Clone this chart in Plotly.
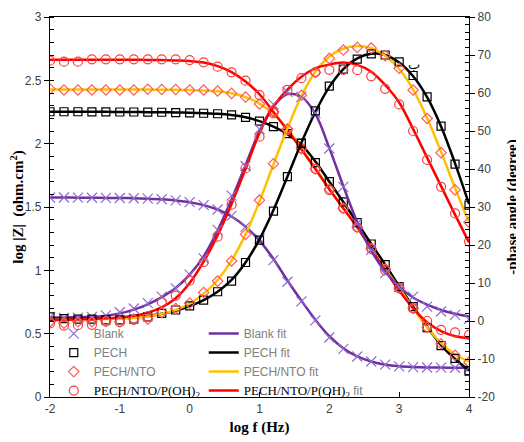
import plotly.graph_objects as go

LOGF = [-2.0, -1.8, -1.6, -1.4, -1.2, -1.0, -0.8, -0.6, -0.4, -0.2, 0.0,
        0.2, 0.4, 0.6, 0.8, 1.0, 1.2, 1.4, 1.6, 1.8, 2.0,
        2.2, 2.4, 2.6, 2.8, 3.0, 3.2, 3.4, 3.6, 3.8, 4.0]

X_TICKS = [-2, -1, 0, 1, 2, 3, 4]
X_TICKTEXT = ["-2", "-1", "0", "1", "2", "3", "4"]
Y_TICKS = [0, 0.5, 1, 1.5, 2, 2.5, 3]
Y_TICKTEXT = ["0", "0.5", "1", "1.5", "2", "2.5", "3"]
Y2_TICKS = [-20, -10, 0, 10, 20, 30, 40, 50, 60, 70, 80]
Y2_TICKTEXT = ["-20", "-10", "0", "10", "20", "30", "40", "50", "60", "70", "80"]

# ---- log|Z| data ----
blank_z = [1.575, 1.575, 1.574, 1.573, 1.572, 1.571, 1.569, 1.566, 1.561, 1.552, 1.538,
           1.515, 1.48, 1.43, 1.345, 1.25, 1.08, 0.91, 0.755, 0.605, 0.47,
           0.38, 0.32, 0.28, 0.255, 0.242, 0.236, 0.233, 0.232, 0.231, 0.231]
pech_z = [2.252, 2.252, 2.252, 2.251, 2.251, 2.250, 2.250, 2.249, 2.248, 2.245, 2.243,
          2.240, 2.236, 2.228, 2.208, 2.178, 2.134, 2.08, 2.003, 1.85, 1.70,
          1.54, 1.376, 1.208, 1.045, 0.871, 0.713, 0.547, 0.405, 0.305, 0.205]
nto_z = [2.432, 2.424, 2.424, 2.424, 2.424, 2.424, 2.424, 2.430, 2.428, 2.428, 2.424,
         2.424, 2.416, 2.397, 2.368, 2.313, 2.252, 2.115, 1.96, 1.80, 1.64,
         1.49, 1.34, 1.17, 1.01, 0.86, 0.70, 0.55, 0.42, 0.33, 0.275]
poh_z = [2.655, 2.647, 2.647, 2.666, 2.666, 2.666, 2.666, 2.666, 2.666, 2.666, 2.660,
         2.642, 2.608, 2.563, 2.497, 2.384, 2.24, 2.108, 1.963, 1.80, 1.634,
         1.49, 1.34, 1.17, 1.00, 0.858, 0.70, 0.60, 0.53, 0.51, 0.49]

# ---- log|Z| fits ----
blank_z_fit = [1.575, 1.575, 1.574, 1.573, 1.572, 1.571, 1.569, 1.566, 1.561, 1.552, 1.538,
               1.515, 1.48, 1.425, 1.345, 1.235, 1.09, 0.92, 0.76, 0.61, 0.48,
               0.385, 0.32, 0.28, 0.255, 0.242, 0.236, 0.233, 0.232, 0.231, 0.231]
pech_z_fit = [2.252, 2.252, 2.252, 2.251, 2.251, 2.250, 2.250, 2.249, 2.248, 2.246, 2.244,
              2.241, 2.236, 2.226, 2.208, 2.178, 2.134, 2.075, 1.99, 1.86, 1.70,
              1.54, 1.376, 1.208, 1.045, 0.875, 0.713, 0.555, 0.41, 0.30, 0.21]
nto_z_fit = [2.428, 2.428, 2.428, 2.428, 2.428, 2.428, 2.427, 2.427, 2.426, 2.425, 2.423,
             2.420, 2.413, 2.398, 2.368, 2.316, 2.235, 2.115, 1.965, 1.805, 1.645,
             1.49, 1.34, 1.175, 1.01, 0.86, 0.70, 0.55, 0.425, 0.335, 0.28]
poh_z_fit = [2.662, 2.662, 2.662, 2.662, 2.662, 2.662, 2.662, 2.661, 2.660, 2.657, 2.652,
             2.640, 2.612, 2.565, 2.49, 2.39, 2.25, 2.105, 1.955, 1.80, 1.64,
             1.49, 1.34, 1.17, 1.00, 0.84, 0.70, 0.59, 0.52, 0.48, 0.465]

# ---- -phase data ----
blank_ph = [1.0, 0.8, 0.9, 1.1, 1.5, 2.3, 3.3, 4.7, 6.4, 8.6, 12.2,
            16.5, 24.0, 33.0, 40.8, 50.5, 57.0, 60.3, 59.0, 54.7, 45.4,
            35.3, 25.7, 18.7, 12.6, 9.0, 6.4, 3.8, 2.5, 1.6, 0.5]
pech_ph = [1.1, 0.6, 0.5, 0.5, 0.3, 0.3, 0.5, 1.1, 2.0, 2.9, 4.0,
           5.5, 7.7, 10.5, 15.4, 21.3, 28.9, 38.0, 46.8, 55.3, 61.8,
           66.3, 68.9, 70.3, 70.0, 68.2, 64.6, 59.0, 51.3, 41.3, 30.5]
nto_ph = [-0.2, -0.6, -0.2, -0.2, 0.0, -0.2, 0.5, 0.5, 2.2, 3.3, 4.7,
          7.5, 10.5, 15.8, 22.8, 31.8, 41.4, 50.5, 59.4, 65.4, 69.1,
          71.3, 72.0, 71.8, 69.8, 66.5, 60.8, 53.3, 44.3, 34.5, 26.0]
poh_ph = [-0.6, -1.2, -1.1, -1.0, -0.2, -0.3, 0.3, 1.2, 5.0, 6.7, 10.6,
          15.5, 22.2, 30.6, 40.2, 48.5, 55.1, 60.8, 63.9, 65.5, 66.1,
          66.1, 66.0, 64.4, 61.1, 57.0, 50.0, 42.4, 35.3, 28.3, 20.9]

# ---- -phase fits ----
blank_ph_fit = [0.9, 0.9, 1.0, 1.1, 1.4, 2.0, 3.0, 4.4, 6.3, 8.7, 12.2,
                17.0, 23.8, 32.0, 41.0, 50.0, 56.5, 59.7, 59.0, 54.5, 45.5,
                35.5, 26.0, 18.5, 13.0, 9.0, 6.2, 4.3, 2.9, 1.9, 1.2]
pech_ph_fit = [0.6, 0.6, 0.6, 0.6, 0.7, 0.8, 1.0, 1.3, 1.9, 2.7, 3.9,
               5.5, 7.7, 10.8, 15.4, 21.5, 29.2, 38.0, 46.9, 55.0, 61.6,
               66.3, 69.1, 70.3, 70.0, 68.0, 64.4, 58.9, 51.2, 41.5, 30.8]
nto_ph_fit = [0.3, 0.3, 0.3, 0.4, 0.5, 0.6, 0.8, 1.2, 1.9, 2.9, 4.6,
              7.2, 10.8, 15.9, 22.8, 31.5, 41.2, 50.7, 59.2, 65.6, 69.6,
              71.7, 72.4, 71.8, 69.8, 66.3, 60.9, 53.4, 44.5, 35.0, 26.0]
poh_ph_fit = [0.3, 0.3, 0.4, 0.5, 0.7, 0.9, 1.4, 2.2, 3.6, 6.0, 10.0,
              15.6, 22.6, 30.8, 40.0, 49.5, 56.5, 60.9, 64.3, 66.5, 67.5,
              68.0, 67.4, 65.6, 62.1, 57.5, 50.5, 43.0, 35.5, 28.0, 20.7]

NAMES = ["Blank", "PECH", "PECH/NTO", "PECH/NTO/P(OH)<sub>2</sub>"]
LINE_COLORS = ["#7030A0", "#000000", "#FFC000", "#FF0000"]
MARK_COLORS = ["#8E6CCF", "#000000", "#FF5A5A", "#FF3B3B"]
MARK_SYMBOLS = ["x-thin-open", "square-open", "diamond-open", "circle-open"]
MARK_SIZES = [10, 8, 8, 9]

Z_DATA = [blank_z, pech_z, nto_z, poh_z]
Z_FIT = [blank_z_fit, pech_z_fit, nto_z_fit, poh_z_fit]
P_DATA = [blank_ph, pech_ph, nto_ph, poh_ph]
P_FIT = [blank_ph_fit, pech_ph_fit, nto_ph_fit, poh_ph_fit]

SERIF = "Liberation Serif"
SANS = "Liberation Sans"


def legend_name(i, fit=False):
    if i == 3:
        s = "<span style='font-family:Liberation Serif;font-size:13px;color:#000000'>PECH/NTO/P(OH)<sub>2</sub></span>"
        if fit:
            s += " fit"
        return s
    return NAMES[i] + (" fit" if fit else "")


fig = go.Figure()

# fit lines
for i in range(4):
    fig.add_trace(go.Scatter(x=LOGF, y=Z_FIT[i], mode="lines", line=dict(color=LINE_COLORS[i], width=2.5, shape="spline"),
                             name=legend_name(i, True), legend="legend2", showlegend=True, legendgroup="f%d" % i))
    fig.add_trace(go.Scatter(x=LOGF, y=P_FIT[i], mode="lines", line=dict(color=LINE_COLORS[i], width=2.5, shape="spline"),
                             yaxis="y2", showlegend=False, legendgroup="f%d" % i))

# data markers
for i in range(4):
    mk = dict(symbol=MARK_SYMBOLS[i], size=MARK_SIZES[i], color=MARK_COLORS[i], line=dict(width=1.2, color=MARK_COLORS[i]))
    fig.add_trace(go.Scatter(x=LOGF, y=Z_DATA[i], mode="markers", marker=mk,
                             name=legend_name(i), legend="legend", showlegend=True, legendgroup="d%d" % i))
    fig.add_trace(go.Scatter(x=LOGF, y=P_DATA[i], mode="markers", marker=mk,
                             yaxis="y2", showlegend=False, legendgroup="d%d" % i))

tickfont = dict(family=SANS, size=12, color="#404040")
titlefont = dict(family=SERIF, size=15, color="#000000", weight="bold")

# the page body has an 8px margin, so the figure is 8px smaller than the window
fig.update_layout(
    width=516, height=434, autosize=False,
    margin=dict(l=42, r=55, t=9, b=45, autoexpand=False),
    paper_bgcolor="white", plot_bgcolor="white",
    xaxis=dict(range=[-2, 4], tickvals=X_TICKS, ticktext=X_TICKTEXT, showgrid=False, zeroline=False,
               automargin=False,
               showline=True, linecolor="black", linewidth=1.2, mirror=True,
               ticks="inside", ticklen=5, tickcolor="black", tickfont=tickfont,
               title=dict(text="log f (Hz)", font=titlefont, standoff=6)),
    yaxis=dict(range=[0, 3], tickvals=Y_TICKS, ticktext=Y_TICKTEXT, showgrid=False, zeroline=False,
               automargin=False,
               showline=True, linecolor="black", linewidth=1.2,
               ticks="outside", ticklen=5, tickcolor="black", tickfont=tickfont,
               minor=dict(dtick=0.1, ticks="inside", ticklen=4, tickcolor="black"),
               title=dict(text="log |Z|  (ohm.cm<sup>2</sup>)", font=titlefont, standoff=5)),
    yaxis2=dict(range=[-20, 80], tickvals=Y2_TICKS, ticktext=Y2_TICKTEXT, overlaying="y", side="right",
                showgrid=False, zeroline=False, automargin=False,
                showline=True, linecolor="black", linewidth=1.2,
                ticks="outside", ticklen=5, tickcolor="black", tickfont=tickfont,
                minor=dict(dtick=2, ticks="inside", ticklen=4, tickcolor="black"),
                title=dict(text="-phase angle (degree)", font=titlefont, standoff=12)),
    legend=dict(x=0.009, y=0.205, xanchor="left", yanchor="top", bgcolor="rgba(0,0,0,0)",
                font=dict(family=SANS, size=12, color="#808080"), traceorder="normal",
                itemwidth=30, tracegroupgap=0),
    legend2=dict(x=0.367, y=0.205, xanchor="left", yanchor="top", bgcolor="rgba(0,0,0,0)",
                 font=dict(family=SANS, size=12, color="#808080"), traceorder="normal",
                 itemwidth=30, tracegroupgap=0),
    annotations=[dict(text="ب", xref="paper", yref="paper", x=0.889, y=0.9, showarrow=False,
                      font=dict(family="DejaVu Sans", size=13, color="black"))],
)

fig.write_html("out.html")
